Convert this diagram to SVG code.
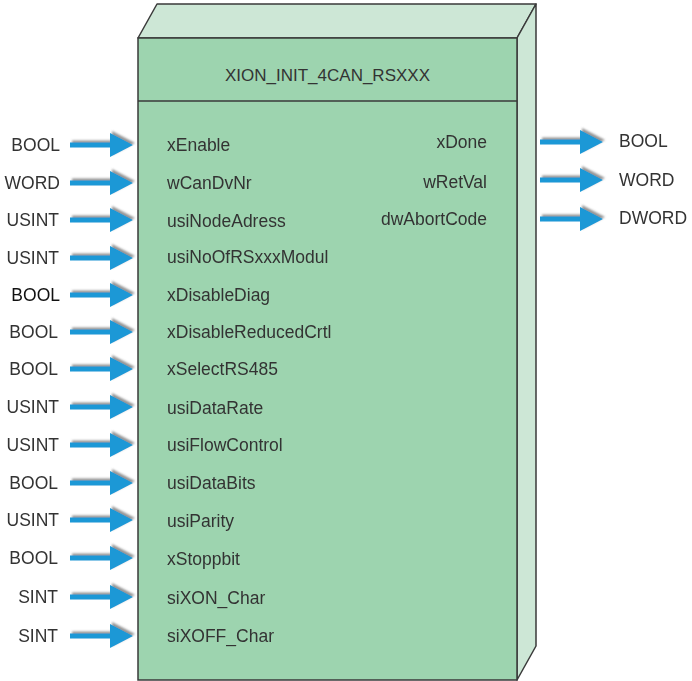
<svg xmlns="http://www.w3.org/2000/svg" width="692" height="681" viewBox="0 0 692 681">
<defs>
<style>
text{font-family:"Liberation Sans",Arial,sans-serif;font-size:17.5px;fill:#333}
.r{text-anchor:end}
.face{fill:#9dd4af;stroke:#3a3a3a;stroke-width:1.5}
.side{fill:#cde7d6;stroke:#3a3a3a;stroke-width:1.5;stroke-linejoin:round}
.arr{fill:#1a98d6;filter:url(#sh)}
</style>
<filter id="sh" x="-20%" y="-40%" width="140%" height="180%">
<feDropShadow dx="2" dy="-2" stdDeviation="1.3" flood-color="#666" flood-opacity="0.7"/>
</filter>
<symbol id="a" overflow="visible">
<path d="M0,-2.6 H40 V-12 L63,0 L40,12 V2.6 H0 Z"/>
</symbol>
</defs>
<g id="block">
<polygon class="side" points="138,38 157,4 536,4 517,38"/>
<polygon class="side" points="517,38 536,4 536,646 517,680"/>
<rect class="face" x="138" y="38" width="379" height="642"/>
<line x1="138" y1="101" x2="517" y2="101" stroke="#3a3a3a" stroke-width="1.5"/>
<text x="327.5" y="81" text-anchor="middle" style="font-size:17px">XION_INIT_4CAN_RSXXX</text>
</g>
<g id="connectors" class="arr">
<use href="#a" x="70" y="145"/>
<use href="#a" x="70" y="183"/>
<use href="#a" x="70" y="220"/>
<use href="#a" x="70" y="258"/>
<use href="#a" x="70" y="295"/>
<use href="#a" x="70" y="332"/>
<use href="#a" x="70" y="369"/>
<use href="#a" x="70" y="407"/>
<use href="#a" x="70" y="445"/>
<use href="#a" x="70" y="483"/>
<use href="#a" x="70" y="520"/>
<use href="#a" x="70" y="558"/>
<use href="#a" x="70" y="597"/>
<use href="#a" x="70" y="636"/>
<use href="#a" x="540" y="142"/>
<use href="#a" x="540" y="180"/>
<use href="#a" x="540" y="219"/>
</g>
<g id="inputs">
<text class="r" x="60" y="151">BOOL</text><text x="167" y="151">xEnable</text>
<text class="r" x="60" y="189">WORD</text><text x="167" y="189">wCanDvNr</text>
<text class="r" x="59" y="226">USINT</text><text x="167" y="227">usiNodeAdress</text>
<text class="r" x="59" y="264">USINT</text><text x="167" y="263">usiNoOfRSxxxModul</text>
<text class="r" x="60" y="301" style="fill:#111">BOOL</text><text x="167" y="301">xDisableDiag</text>
<text class="r" x="58" y="338">BOOL</text><text x="167" y="338">xDisableReducedCrtl</text>
<text class="r" x="58" y="375">BOOL</text><text x="167" y="375">xSelectRS485</text>
<text class="r" x="59" y="413">USINT</text><text x="167" y="414">usiDataRate</text>
<text class="r" x="59" y="451">USINT</text><text x="167" y="451">usiFlowControl</text>
<text class="r" x="58" y="489">BOOL</text><text x="167" y="489">usiDataBits</text>
<text class="r" x="59" y="526">USINT</text><text x="167" y="527">usiParity</text>
<text class="r" x="58" y="564">BOOL</text><text x="167" y="565">xStoppbit</text>
<text class="r" x="58" y="603">SINT</text><text x="167" y="604">siXON_Char</text>
<text class="r" x="58" y="642">SINT</text><text x="167" y="642">siXOFF_Char</text>
</g>
<g id="outputs">
<text class="r" x="487" y="148">xDone</text><text x="619" y="147">BOOL</text>
<text class="r" x="487" y="188">wRetVal</text><text x="619" y="186">WORD</text>
<text class="r" x="487" y="225">dwAbortCode</text><text x="619" y="224">DWORD</text>
</g>
</svg>
